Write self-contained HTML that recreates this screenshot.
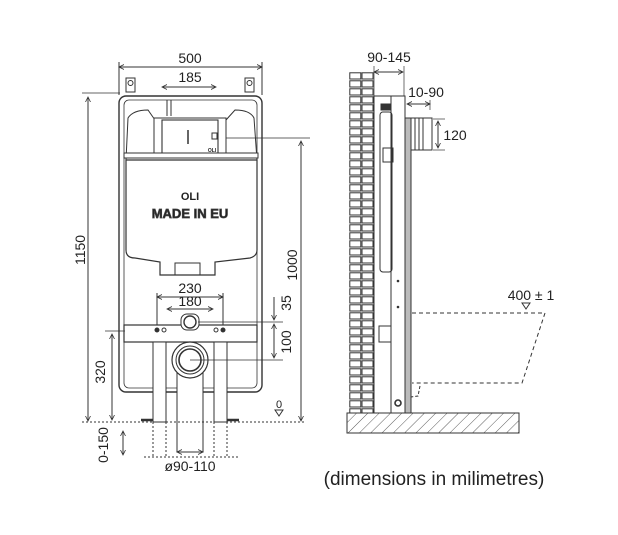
<!DOCTYPE html>
<html><head><meta charset="utf-8"><style>
html,body{margin:0;padding:0;background:#fff;}
svg{display:block;}
text{font-family:"Liberation Sans",sans-serif;fill:#222;}
</style></head><body>
<svg width="618" height="535" viewBox="0 0 618 535" xmlns="http://www.w3.org/2000/svg">
<defs>
<pattern id="brick" x="349" y="72" width="25" height="8" patternUnits="userSpaceOnUse">
<rect x="0" y="0" width="25" height="8" fill="#fff"/>
<rect x="0.8" y="0.8" width="11" height="6.2" fill="none" stroke="#333" stroke-width="1"/>
<rect x="13" y="0.8" width="11" height="6.2" fill="none" stroke="#333" stroke-width="1"/>
</pattern>
<pattern id="hatch" width="8" height="8" patternUnits="userSpaceOnUse" patternTransform="rotate(45)">
<line x1="0" y1="0" x2="0" y2="8" stroke="#333" stroke-width="0.8"/>
</pattern>
<marker id="a" markerWidth="6" markerHeight="6" refX="5" refY="3" orient="auto-start-reverse"><path d="M0,0.5 L5,3 L0,5.5" fill="none" stroke="#333" stroke-width="0.8"/></marker>
</defs>
<g stroke="#333" stroke-width="1" fill="none">
<line x1="119" y1="67" x2="262" y2="67" marker-start="url(#a)" marker-end="url(#a)"/>
<line x1="119" y1="62" x2="119" y2="95"/><line x1="262" y1="62" x2="262" y2="95"/>
<line x1="162" y1="87" x2="216" y2="87" marker-start="url(#a)" marker-end="url(#a)"/>
<line x1="82" y1="93" x2="120" y2="93" stroke-width="0.7"/>
<line x1="88" y1="97" x2="88" y2="421" marker-start="url(#a)" marker-end="url(#a)"/>
<line x1="215" y1="138" x2="310" y2="138" stroke-width="0.7"/>
<line x1="301" y1="141" x2="301" y2="421" marker-start="url(#a)" marker-end="url(#a)"/>
<rect x="119" y="96" width="143" height="296" rx="7" stroke-width="1.4"/>
<rect x="124" y="100" width="133" height="288" rx="5" stroke-width="0.8"/>
<rect x="126" y="78" width="9" height="14"/><circle cx="130.5" cy="83" r="2.5"/>
<rect x="245" y="78" width="9" height="14"/><circle cx="249.5" cy="83" r="2.5"/>
<path d="M126,160 L126,250 Q126,258 135,258 L160,262 L160,275 L215,275 L215,262 L250,258 Q257,256 257,250 L257,160 Z" fill="#fff" stroke-width="1.2"/>
<path d="M126,160 L128,118 Q133,110 148,110 L155,120 L155,155 L226,155 L226,120 L235,110 Q250,110 254,118 L257,160" stroke-width="1"/>
<rect x="154" y="118" width="72" height="37" fill="#fff"/>
<rect x="162" y="120" width="56" height="34" stroke-width="1.1"/>
<line x1="188" y1="130" x2="188" y2="144" stroke-width="1.5"/>
<rect x="212" y="133" width="5" height="6"/>
<rect x="124" y="153" width="134" height="5" fill="#fff"/>
<path d="M167,100 L167,116 M171,100 L171,116"/>
<rect x="175" y="263" width="25" height="12"/>
<line x1="157" y1="297" x2="223" y2="297" marker-start="url(#a)" marker-end="url(#a)"/>
<line x1="157" y1="293" x2="157" y2="330"/><line x1="223" y1="293" x2="223" y2="330"/>
<line x1="167" y1="309" x2="213" y2="309" marker-start="url(#a)" marker-end="url(#a)"/>
<rect x="124" y="325" width="133" height="17" fill="#fff" stroke-width="1.2"/>
<rect x="181" y="314" width="18" height="16" rx="6" fill="#fff"/>
<circle cx="190" cy="322" r="6" stroke-width="1.4"/>
<circle cx="157" cy="330" r="2" fill="#333"/><circle cx="164" cy="330" r="2"/>
<circle cx="216" cy="330" r="2"/><circle cx="223" cy="330" r="2" fill="#333"/>
<rect x="153" y="342" width="13" height="80" fill="#fff"/>
<rect x="214" y="342" width="13" height="80" fill="#fff"/>
<rect x="177" y="370" width="26" height="82" fill="#fff"/>
<circle cx="190" cy="360" r="18" fill="#fff" stroke-width="1.2"/>
<circle cx="190" cy="360" r="14" stroke-width="1"/>
<circle cx="190" cy="360" r="11" stroke-width="1.6"/>
<line x1="198" y1="322" x2="283" y2="322" stroke-width="0.7"/>
<line x1="190" y1="360" x2="283" y2="360" stroke-width="0.7"/>
<line x1="274" y1="297" x2="274" y2="320" marker-end="url(#a)"/>
<line x1="274" y1="324" x2="274" y2="358" marker-start="url(#a)" marker-end="url(#a)"/>
<line x1="105" y1="331" x2="125" y2="331" stroke-width="0.7"/>
<line x1="112" y1="334" x2="112" y2="420" marker-start="url(#a)" marker-end="url(#a)"/>
<line x1="82" y1="422" x2="305" y2="422" stroke-dasharray="2,2"/>
<line x1="123" y1="431" x2="123" y2="455" marker-start="url(#a)" marker-end="url(#a)"/>
<line x1="144" y1="457" x2="238" y2="457" stroke-dasharray="2,2"/>
<path d="M153,422 V457 M166,422 V457 M214,422 V457 M227,422 V457" stroke-dasharray="2,2"/>
<line x1="177" y1="452" x2="203" y2="452" marker-start="url(#a)" marker-end="url(#a)"/>
<path d="M141,420 H153 M227,420 H239" stroke-width="2.5"/>
<path d="M275,410 L283,410 L279,416 Z"/>
<rect x="349" y="72" width="25" height="341" fill="url(#brick)" stroke="none"/>
<rect x="347" y="413" width="172" height="20" fill="url(#hatch)" stroke="#333"/>
<rect x="374" y="96" width="17" height="317"/>
<rect x="391" y="96" width="14" height="317" fill="#fff"/>
<rect x="405" y="118" width="6" height="295" fill="#bbb"/>
<rect x="411" y="118" width="21" height="32" fill="#fff"/>
<path d="M415,118 V150 M419,118 V150 M423,118 V150"/>
<rect x="381" y="104" width="10" height="6" fill="#333"/>
<rect x="380" y="112" width="12" height="160" rx="3"/>
<rect x="383" y="148" width="10" height="14"/>
<rect x="379" y="326" width="12" height="16"/>
<circle cx="398" cy="403" r="3" stroke-width="1.6"/>
<circle cx="398" cy="281" r="0.8" fill="#333"/><circle cx="398" cy="307" r="0.8" fill="#333"/>
<line x1="374" y1="72" x2="403" y2="72" marker-start="url(#a)" marker-end="url(#a)"/>
<line x1="374" y1="66" x2="374" y2="96" stroke-width="0.7"/><line x1="404" y1="66" x2="404" y2="96" stroke-width="0.7"/>
<line x1="407" y1="104" x2="430" y2="104" marker-start="url(#a)" marker-end="url(#a)"/>
<line x1="430" y1="100" x2="430" y2="110" stroke-width="0.7"/>
<line x1="433" y1="119" x2="445" y2="119" stroke-width="0.7"/><line x1="433" y1="150" x2="445" y2="150" stroke-width="0.7"/>
<line x1="438" y1="121" x2="438" y2="148" marker-start="url(#a)" marker-end="url(#a)"/>
<path d="M412,313 H545 L522,383 H412" stroke-dasharray="4,3"/>
<path d="M420,386 L418,396 L411,397" stroke-dasharray="3,2"/>
<path d="M522,303 L530,303 L526,309 Z"/>
</g>
<g text-anchor="middle">
<text x="190" y="63" font-size="14">500</text>
<text x="190" y="82" font-size="14">185</text>
<text x="190" y="293" font-size="14">230</text>
<text x="190" y="306" font-size="14">180</text>
<text x="190" y="200" font-size="11" font-weight="bold">OLI</text>
<text x="190" y="218" font-size="13" font-weight="bold" fill="#fff" stroke="#444" stroke-width="0.7">MADE IN EU</text>
<text x="212" y="152" font-size="5" font-weight="bold">OLI</text>
<text transform="translate(85,250) rotate(-90)" font-size="14">1150</text>
<text transform="translate(297,265) rotate(-90)" font-size="14">1000</text>
<text transform="translate(291,303) rotate(-90)" font-size="14">35</text>
<text transform="translate(291,342) rotate(-90)" font-size="14">100</text>
<text transform="translate(105,372) rotate(-90)" font-size="14">320</text>
<text transform="translate(108,445) rotate(-90)" font-size="14">0-150</text>
<text x="279" y="408" font-size="11">0</text>
<text x="190" y="471" font-size="14">ø90-110</text>
<text x="389" y="62" font-size="14">90-145</text>
<text x="426" y="97" font-size="14">10-90</text>
<text x="455" y="140" font-size="14">120</text>
<text x="531" y="300" font-size="14">400 ± 1</text>
<text x="434" y="485" font-size="19">(dimensions in milimetres)</text>
</g>
</svg>
</body></html>
